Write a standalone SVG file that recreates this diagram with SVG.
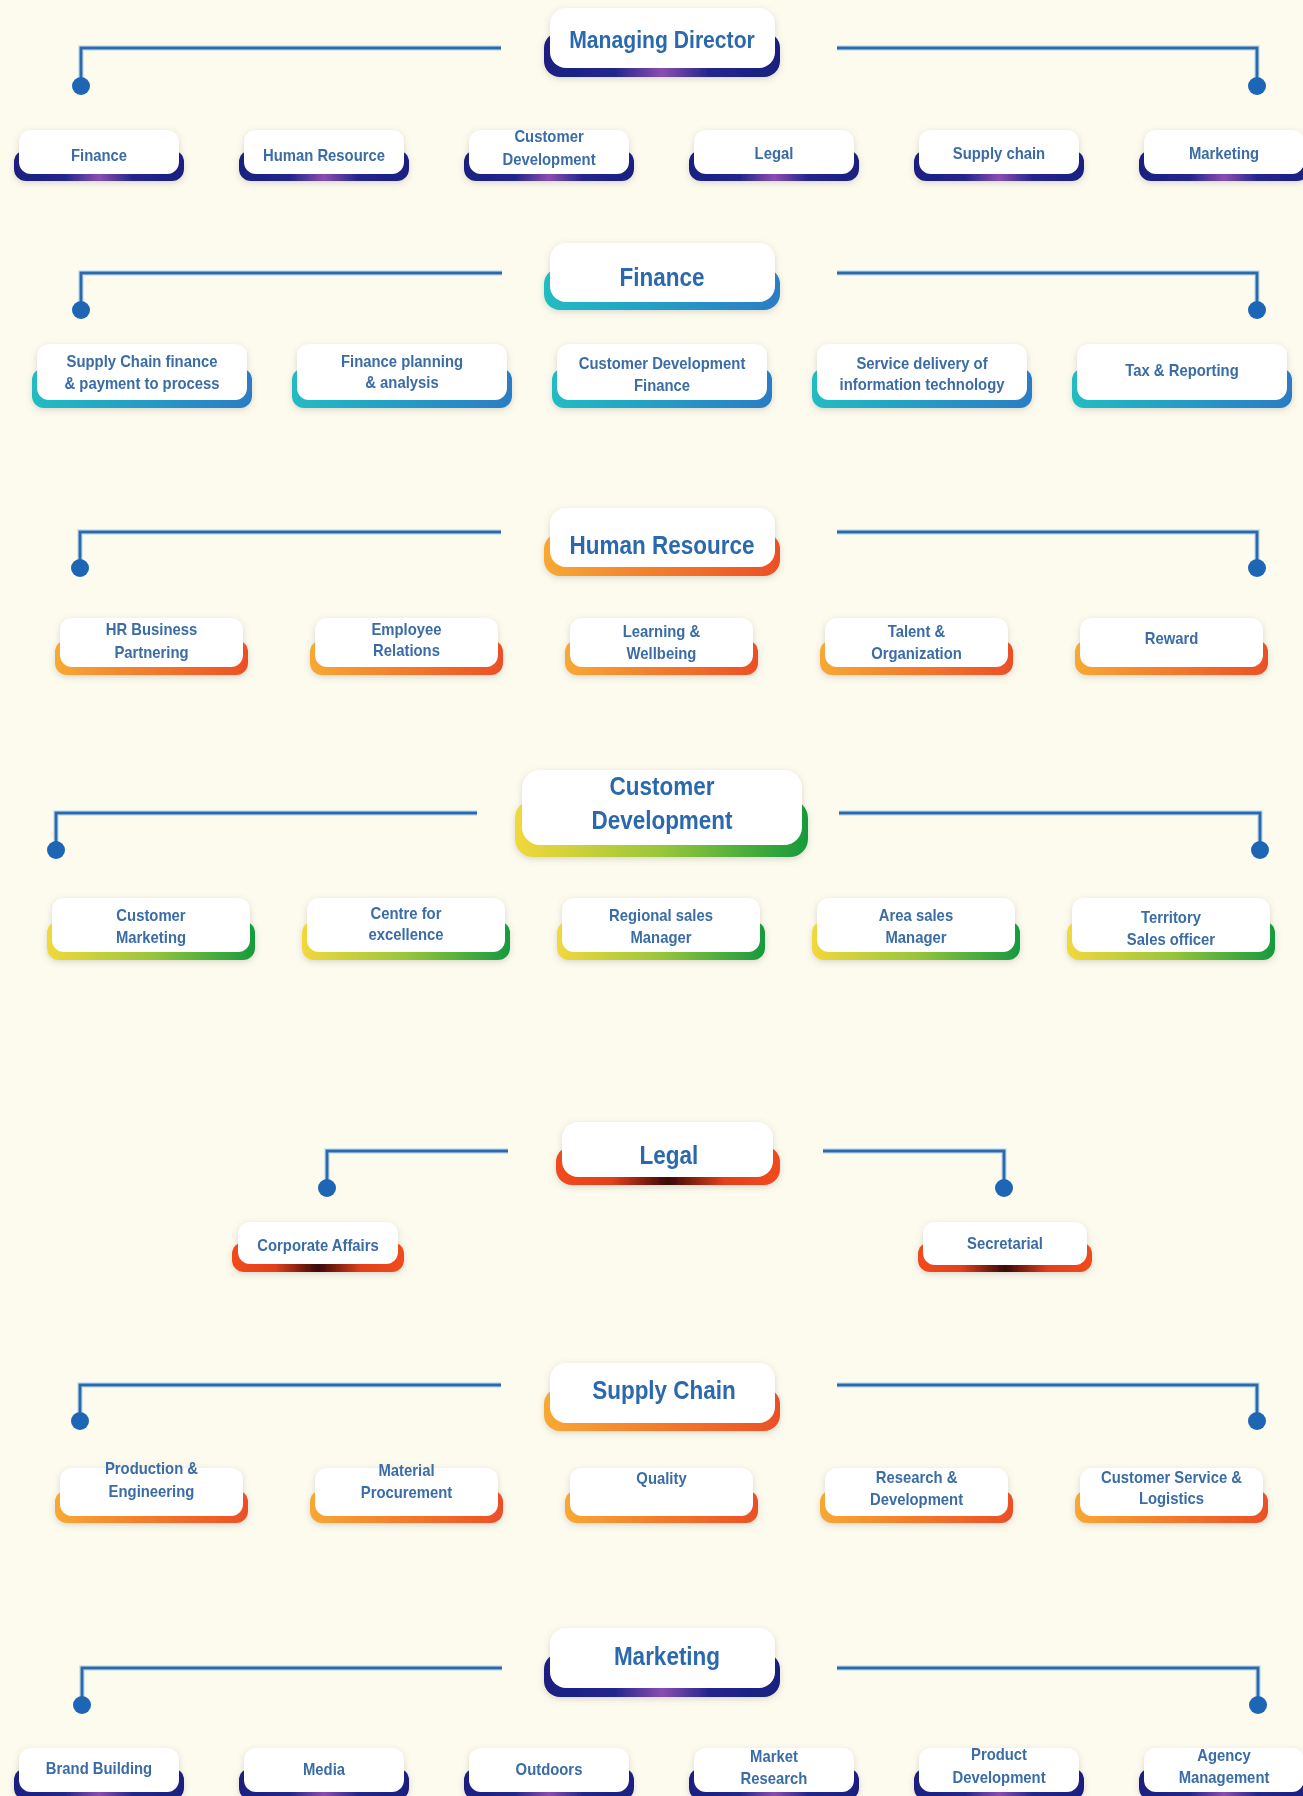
<svg xmlns="http://www.w3.org/2000/svg" width="1303" height="1796" viewBox="0 0 1303 1796">
<defs>
<linearGradient id="gNavy" x1="0" y1="0" x2="1" y2="0">
<stop offset="0" stop-color="#1b1f80"/><stop offset="0.3" stop-color="#23268c"/><stop offset="0.5" stop-color="#8a4db0"/><stop offset="0.7" stop-color="#23268c"/><stop offset="1" stop-color="#1b1f80"/>
</linearGradient>
<linearGradient id="gTeal" x1="0" y1="0" x2="1" y2="0">
<stop offset="0" stop-color="#20bcc2"/><stop offset="1" stop-color="#2b7cc6"/>
</linearGradient>
<linearGradient id="gOrange" x1="0" y1="0" x2="1" y2="0">
<stop offset="0" stop-color="#f7a832"/><stop offset="1" stop-color="#ec4f25"/>
</linearGradient>
<linearGradient id="gGreen" x1="0" y1="0" x2="1" y2="0">
<stop offset="0" stop-color="#f2d83a"/><stop offset="0.5" stop-color="#98c63a"/><stop offset="1" stop-color="#159a3e"/>
</linearGradient>
<linearGradient id="gRed" x1="0" y1="0" x2="1" y2="0">
<stop offset="0" stop-color="#f24a1e"/><stop offset="0.25" stop-color="#e2401c"/><stop offset="0.5" stop-color="#3a0806"/><stop offset="0.75" stop-color="#e2401c"/><stop offset="1" stop-color="#f24a1e"/>
</linearGradient>
<filter id="sh" x="-10%" y="-20%" width="120%" height="150%">
<feDropShadow dx="0" dy="2" stdDeviation="3" flood-color="#6a6a5a" flood-opacity="0.25"/>
</filter>
</defs>
<style>
.bg{fill:#fdfbee}
.node{filter:url(#sh)}
.card{fill:#ffffff}
.navy .base{fill:url(#gNavy)}
.teal .base{fill:url(#gTeal)}
.orange .base{fill:url(#gOrange)}
.green .base{fill:url(#gGreen)}
.red .base{fill:url(#gRed)}
text{font-family:"Liberation Sans",Arial,sans-serif;font-weight:bold;text-anchor:middle;transform:scaleX(0.9);transform-box:fill-box;transform-origin:center}
.h{font-size:25px;fill:#2c69ad}
.c{font-size:16.5px;fill:#3a6ca6}
.halo{fill:none;stroke:#b4dcf2;stroke-width:6;opacity:0.6}
.ln{fill:none;stroke:#2d68aa;stroke-width:3}
.dot{fill:#1d66b5}
</style>
<rect class="bg" x="0" y="0" width="1303" height="1796"/>

<g id="connectors">
<path class="halo" d="M501 48H81V85M837 48H1257V85M502 273H81V310M837 273H1257V310M501 532H80V568M837 532H1257V568M477 813H56V850M839 813H1260V850M508 1151H327V1188M823 1151H1004V1188M501 1385H80V1421M837 1385H1257V1421M502 1668H82V1705M837 1668H1258V1705"/>
<path class="ln" d="M501 48H81V85M837 48H1257V85M502 273H81V310M837 273H1257V310M501 532H80V568M837 532H1257V568M477 813H56V850M839 813H1260V850M508 1151H327V1188M823 1151H1004V1188M501 1385H80V1421M837 1385H1257V1421M502 1668H82V1705M837 1668H1258V1705"/>
<circle class="dot" cx="81" cy="86" r="9"/><circle class="dot" cx="1257" cy="86" r="9"/>
<circle class="dot" cx="81" cy="310" r="9"/><circle class="dot" cx="1257" cy="310" r="9"/>
<circle class="dot" cx="80" cy="568" r="9"/><circle class="dot" cx="1257" cy="568" r="9"/>
<circle class="dot" cx="56" cy="850" r="9"/><circle class="dot" cx="1260" cy="850" r="9"/>
<circle class="dot" cx="327" cy="1188" r="9"/><circle class="dot" cx="1004" cy="1188" r="9"/>
<circle class="dot" cx="80" cy="1421" r="9"/><circle class="dot" cx="1257" cy="1421" r="9"/>
<circle class="dot" cx="82" cy="1705" r="9"/><circle class="dot" cx="1258" cy="1705" r="9"/>
</g>

<!-- Managing Director -->
<g id="n-md" class="node navy"><rect class="base" x="544" y="32" width="236" height="45" rx="16"/><rect class="card" x="550" y="8" width="225" height="60" rx="16"/><text class="h" x="662" y="48" style="font-size:23.5px">Managing Director</text></g>
<g id="n-md-finance" class="node navy"><rect class="base" x="14" y="150" width="170" height="31" rx="12"/><rect class="card" x="19" y="130" width="160" height="44" rx="12"/><text class="c" x="99" y="161">Finance</text></g>
<g id="n-md-hr" class="node navy"><rect class="base" x="239" y="150" width="170" height="31" rx="12"/><rect class="card" x="244" y="130" width="160" height="44" rx="12"/><text class="c" x="324" y="161">Human Resource</text></g>
<g id="n-md-cd" class="node navy"><rect class="base" x="464" y="150" width="170" height="31" rx="12"/><rect class="card" x="469" y="130" width="160" height="44" rx="12"/><text class="c" x="549" y="142">Customer<tspan x="549" y="165">Development</tspan></text></g>
<g id="n-md-legal" class="node navy"><rect class="base" x="689" y="150" width="170" height="31" rx="12"/><rect class="card" x="694" y="130" width="160" height="44" rx="12"/><text class="c" x="774" y="159">Legal</text></g>
<g id="n-md-sc" class="node navy"><rect class="base" x="914" y="150" width="170" height="31" rx="12"/><rect class="card" x="919" y="130" width="160" height="44" rx="12"/><text class="c" x="999" y="159">Supply chain</text></g>
<g id="n-md-mkt" class="node navy"><rect class="base" x="1139" y="150" width="170" height="31" rx="12"/><rect class="card" x="1144" y="130" width="160" height="44" rx="12"/><text class="c" x="1224" y="159">Marketing</text></g>

<!-- Finance -->
<g id="n-fin" class="node teal"><rect class="base" x="544" y="268" width="236" height="42" rx="16"/><rect class="card" x="550" y="243" width="225" height="59" rx="16"/><text class="h" x="662" y="286">Finance</text></g>
<g id="n-fin-1" class="node teal"><rect class="base" x="32" y="368" width="220" height="40" rx="12"/><rect class="card" x="37" y="344" width="210" height="56" rx="12"/><text class="c" x="142" y="367">Supply Chain finance<tspan x="142" y="389">&amp; payment to process</tspan></text></g>
<g id="n-fin-2" class="node teal"><rect class="base" x="292" y="368" width="220" height="40" rx="12"/><rect class="card" x="297" y="344" width="210" height="56" rx="12"/><text class="c" x="402" y="367">Finance planning<tspan x="402" y="388">&amp; analysis</tspan></text></g>
<g id="n-fin-3" class="node teal"><rect class="base" x="552" y="368" width="220" height="40" rx="12"/><rect class="card" x="557" y="344" width="210" height="56" rx="12"/><text class="c" x="662" y="369">Customer Development<tspan x="662" y="391">Finance</tspan></text></g>
<g id="n-fin-4" class="node teal"><rect class="base" x="812" y="368" width="220" height="40" rx="12"/><rect class="card" x="817" y="344" width="210" height="56" rx="12"/><text class="c" x="922" y="369">Service delivery of<tspan x="922" y="390">information technology</tspan></text></g>
<g id="n-fin-5" class="node teal"><rect class="base" x="1072" y="368" width="220" height="40" rx="12"/><rect class="card" x="1077" y="344" width="210" height="56" rx="12"/><text class="c" x="1182" y="376">Tax &amp; Reporting</text></g>

<!-- Human Resource -->
<g id="n-hr" class="node orange"><rect class="base" x="544" y="533" width="236" height="43" rx="16"/><rect class="card" x="550" y="508" width="225" height="59" rx="16"/><text class="h" x="662" y="554">Human Resource</text></g>
<g id="n-hr-1" class="node orange"><rect class="base" x="55" y="640" width="193" height="35" rx="12"/><rect class="card" x="60" y="618" width="183" height="49" rx="12"/><text class="c" x="151.5" y="635">HR Business<tspan x="151.5" y="658">Partnering</tspan></text></g>
<g id="n-hr-2" class="node orange"><rect class="base" x="310" y="640" width="193" height="35" rx="12"/><rect class="card" x="315" y="618" width="183" height="49" rx="12"/><text class="c" x="406.5" y="635">Employee<tspan x="406.5" y="656">Relations</tspan></text></g>
<g id="n-hr-3" class="node orange"><rect class="base" x="565" y="640" width="193" height="35" rx="12"/><rect class="card" x="570" y="618" width="183" height="49" rx="12"/><text class="c" x="661.5" y="637">Learning &amp;<tspan x="661.5" y="659">Wellbeing</tspan></text></g>
<g id="n-hr-4" class="node orange"><rect class="base" x="820" y="640" width="193" height="35" rx="12"/><rect class="card" x="825" y="618" width="183" height="49" rx="12"/><text class="c" x="916.5" y="637">Talent &amp;<tspan x="916.5" y="659">Organization</tspan></text></g>
<g id="n-hr-5" class="node orange"><rect class="base" x="1075" y="640" width="193" height="35" rx="12"/><rect class="card" x="1080" y="618" width="183" height="49" rx="12"/><text class="c" x="1171.5" y="644">Reward</text></g>

<!-- Customer Development -->
<g id="n-cd" class="node green"><rect class="base" x="515" y="800" width="293" height="57" rx="18"/><rect class="card" x="522" y="770" width="280" height="75" rx="18"/><text class="h" x="662" y="795">Customer<tspan x="662" y="829">Development</tspan></text></g>
<g id="n-cd-1" class="node green"><rect class="base" x="47" y="921" width="208" height="39" rx="12"/><rect class="card" x="52" y="898" width="198" height="54" rx="12"/><text class="c" x="151" y="921">Customer<tspan x="151" y="943">Marketing</tspan></text></g>
<g id="n-cd-2" class="node green"><rect class="base" x="302" y="921" width="208" height="39" rx="12"/><rect class="card" x="307" y="898" width="198" height="54" rx="12"/><text class="c" x="406" y="919">Centre for<tspan x="406" y="940">excellence</tspan></text></g>
<g id="n-cd-3" class="node green"><rect class="base" x="557" y="921" width="208" height="39" rx="12"/><rect class="card" x="562" y="898" width="198" height="54" rx="12"/><text class="c" x="661" y="921">Regional sales<tspan x="661" y="943">Manager</tspan></text></g>
<g id="n-cd-4" class="node green"><rect class="base" x="812" y="921" width="208" height="39" rx="12"/><rect class="card" x="817" y="898" width="198" height="54" rx="12"/><text class="c" x="916" y="921">Area sales<tspan x="916" y="943">Manager</tspan></text></g>
<g id="n-cd-5" class="node green"><rect class="base" x="1067" y="921" width="208" height="39" rx="12"/><rect class="card" x="1072" y="898" width="198" height="54" rx="12"/><text class="c" x="1171" y="923">Territory<tspan x="1171" y="945">Sales officer</tspan></text></g>

<!-- Legal -->
<g id="n-legal" class="node red"><rect class="base" x="556" y="1146" width="224" height="39" rx="16"/><rect class="card" x="562" y="1122" width="211" height="55" rx="16"/><text class="h" x="669" y="1164">Legal</text></g>
<g id="n-legal-1" class="node red"><rect class="base" x="232" y="1242" width="172" height="30" rx="12"/><rect class="card" x="238" y="1222" width="160" height="42" rx="12"/><text class="c" x="318" y="1251">Corporate Affairs</text></g>
<g id="n-legal-2" class="node red"><rect class="base" x="918" y="1242" width="174" height="30" rx="12"/><rect class="card" x="923" y="1222" width="164" height="43" rx="12"/><text class="c" x="1005" y="1249">Secretarial</text></g>

<!-- Supply Chain -->
<g id="n-sc" class="node orange"><rect class="base" x="544" y="1388" width="236" height="43" rx="16"/><rect class="card" x="550" y="1363" width="225" height="60" rx="16"/><text class="h" x="664" y="1399">Supply Chain</text></g>
<g id="n-sc-1" class="node orange"><rect class="base" x="55" y="1490" width="193" height="33" rx="12"/><rect class="card" x="60" y="1468" width="183" height="48" rx="12"/><text class="c" x="151.5" y="1474">Production &amp;<tspan x="151.5" y="1497">Engineering</tspan></text></g>
<g id="n-sc-2" class="node orange"><rect class="base" x="310" y="1490" width="193" height="33" rx="12"/><rect class="card" x="315" y="1468" width="183" height="48" rx="12"/><text class="c" x="406.5" y="1476">Material<tspan x="406.5" y="1498">Procurement</tspan></text></g>
<g id="n-sc-3" class="node orange"><rect class="base" x="565" y="1490" width="193" height="33" rx="12"/><rect class="card" x="570" y="1468" width="183" height="48" rx="12"/><text class="c" x="661.5" y="1484">Quality</text></g>
<g id="n-sc-4" class="node orange"><rect class="base" x="820" y="1490" width="193" height="33" rx="12"/><rect class="card" x="825" y="1468" width="183" height="48" rx="12"/><text class="c" x="916.5" y="1483">Research &amp;<tspan x="916.5" y="1505">Development</tspan></text></g>
<g id="n-sc-5" class="node orange"><rect class="base" x="1075" y="1490" width="193" height="33" rx="12"/><rect class="card" x="1080" y="1468" width="183" height="48" rx="12"/><text class="c" x="1171.5" y="1483">Customer Service &amp;<tspan x="1171.5" y="1504">Logistics</tspan></text></g>

<!-- Marketing -->
<g id="n-mkt" class="node navy"><rect class="base" x="544" y="1653" width="236" height="44" rx="16"/><rect class="card" x="550" y="1628" width="225" height="60" rx="16"/><text class="h" x="667" y="1665">Marketing</text></g>
<g id="n-mkt-1" class="node navy"><rect class="base" x="14" y="1768" width="170" height="32" rx="12"/><rect class="card" x="19" y="1748" width="160" height="44" rx="12"/><text class="c" x="99" y="1774">Brand Building</text></g>
<g id="n-mkt-2" class="node navy"><rect class="base" x="239" y="1768" width="170" height="32" rx="12"/><rect class="card" x="244" y="1748" width="160" height="44" rx="12"/><text class="c" x="324" y="1775">Media</text></g>
<g id="n-mkt-3" class="node navy"><rect class="base" x="464" y="1768" width="170" height="32" rx="12"/><rect class="card" x="469" y="1748" width="160" height="44" rx="12"/><text class="c" x="549" y="1775">Outdoors</text></g>
<g id="n-mkt-4" class="node navy"><rect class="base" x="689" y="1768" width="170" height="32" rx="12"/><rect class="card" x="694" y="1748" width="160" height="44" rx="12"/><text class="c" x="774" y="1762">Market<tspan x="774" y="1784">Research</tspan></text></g>
<g id="n-mkt-5" class="node navy"><rect class="base" x="914" y="1768" width="170" height="32" rx="12"/><rect class="card" x="919" y="1748" width="160" height="44" rx="12"/><text class="c" x="999" y="1760">Product<tspan x="999" y="1783">Development</tspan></text></g>
<g id="n-mkt-6" class="node navy"><rect class="base" x="1139" y="1768" width="170" height="32" rx="12"/><rect class="card" x="1144" y="1748" width="160" height="44" rx="12"/><text class="c" x="1224" y="1761">Agency<tspan x="1224" y="1783">Management</tspan></text></g>
</svg>
